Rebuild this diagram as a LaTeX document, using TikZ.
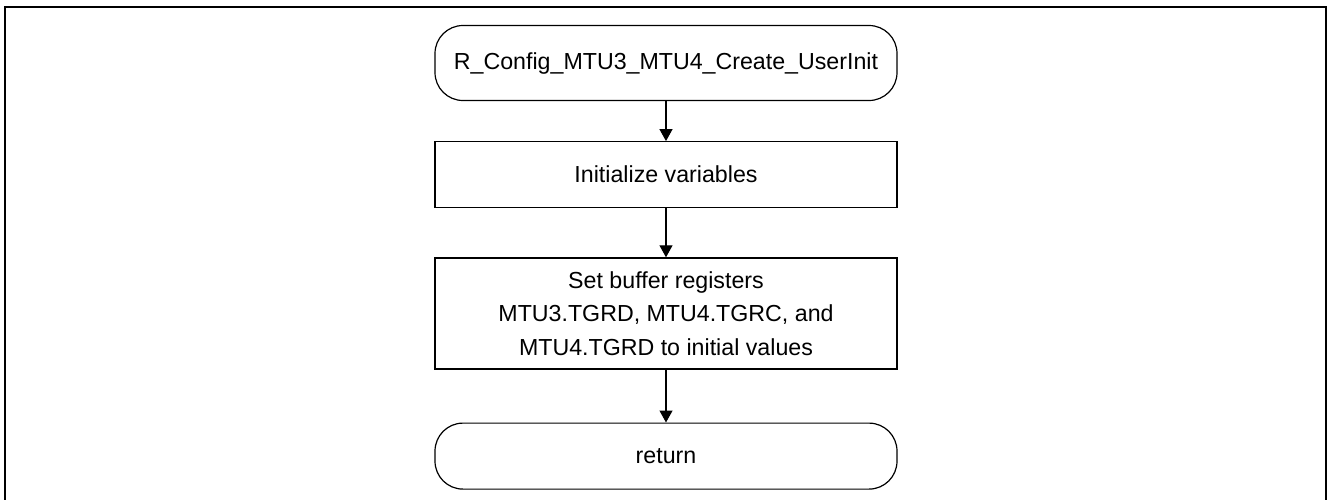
\documentclass[tikz,border=0pt]{standalone}
\usepackage{fontspec}
\setmainfont{Liberation Sans}
\usetikzlibrary{arrows.meta,positioning}
\tikzset{
  vegpont/.style={draw,line width=0.6pt,rounded corners=14pt,minimum width=231pt,align=center,inner sep=2pt},
  doboz/.style={draw,line width=0.6pt,minimum width=231pt,align=center,inner sep=2pt},
  nyil/.style={-{Triangle[length=6pt,width=6.5pt]},line width=0.6pt},
}
\begin{document}
\begin{tikzpicture}[x=0.5pt,y=-0.5pt,font=\fontsize{11.6}{16.8}\selectfont]
  \useasboundingbox (0,0) rectangle (1328,499);
  \draw[line width=1pt] (5,520) -- (5,7) -- (1326,7) -- (1326,520);
  \node[vegpont,minimum height=37.5pt] (start) at (666,63) {R\_Config\_MTU3\_MTU4\_Create\_UserInit};
  \node[doboz,minimum height=33pt,below=20pt of start] (init) {Initialize variables};
  \node[doboz,minimum height=55.5pt,below=24.5pt of init] (buf) {Set buffer registers\\MTU3.TGRD, MTU4.TGRC, and\\MTU4.TGRD to initial values};
  \node[vegpont,minimum height=33pt,below=26.5pt of buf] (ret) {return};
  \draw[nyil] (start) -- (init);
  \draw[nyil] (init) -- (buf);
  \draw[nyil] (buf) -- (ret);
\end{tikzpicture}
\end{document}
